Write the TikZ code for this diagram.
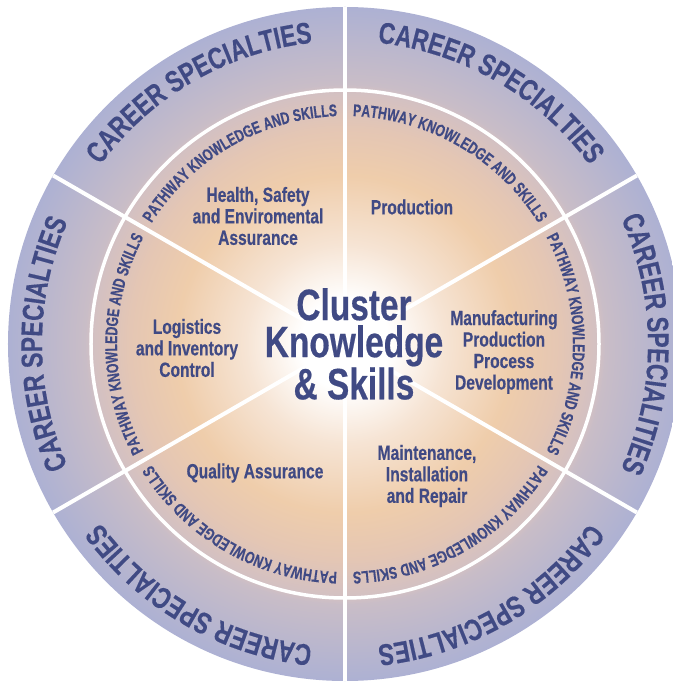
\documentclass[tikz,border=0pt]{standalone}
\usepackage{fontspec}
\newfontfamily\condsans[FakeStretch=0.76, FakeBold=0.4]{Liberation Sans}
\newfontfamily\narrowsans[FakeStretch=0.72, FakeBold=0.4]{Liberation Sans}
\usetikzlibrary{decorations.text}

\definecolor{navy}{HTML}{404A84}
\definecolor{cream}{HTML}{F6E4D4}
\definecolor{peach}{HTML}{EFCDAB}
\definecolor{peachdeep}{HTML}{E4C6B4}
\definecolor{rose}{HTML}{D2C0C3}
\definecolor{mauve}{HTML}{C9BDC7}
\definecolor{lavender}{HTML}{ADB1D3}

% white core fading to peach, then mauve and lavender towards the rim
% (the rim of the shaded disc falls at 25bp)
\pgfdeclareradialshading{wheelshade}{\pgfpoint{0bp}{0bp}}{%
  color(0bp)=(white); color(3.3bp)=(white); color(7.4bp)=(cream);
  color(12.5bp)=(peach); color(16bp)=(peachdeep); color(18.85bp)=(rose);
  color(19.3bp)=(mauve); color(25bp)=(lavender); color(50bp)=(lavender)}

% text set clockwise along an arc: centre angle, radius, font, text
\newcommand\ringtext[4]{%
  \path[decorate, decoration={text along path, text align=center,
      text={|#3\color{navy}|#4}}]
    (#1+29:#2) arc[start angle=#1+29, end angle=#1-29, radius=#2];}

\newcommand\careerfont{\condsans\bfseries\fontsize{30}{32}\selectfont}
\newcommand\pathfont{\narrowsans\bfseries\fontsize{17}{19}\selectfont}

\tikzset{
  sector/.style={text=navy, align=center, inner sep=0pt,
    font=\condsans\bfseries\fontsize{20.5}{21.5}\selectfont},
  core/.style={text=navy, align=center, inner sep=0pt,
    font=\condsans\bfseries\fontsize{44}{37}\selectfont},
  divider/.style={white, line width=4pt},
  ringline/.style={white, line width=3.5pt}
}

\begin{document}
\begin{tikzpicture}[x=1pt, y=1pt]
\useasboundingbox (-345,-338) rectangle (327,344);

% wheel
\shade[shading=wheelshade] (0,0) circle[radius=337];
\draw[ringline] (0,0) circle[radius=254];
\foreach \a in {90,30,-30,-90,-150,150}
  \draw[divider] (0,0) -- (\a:337);

% outer ring
\ringtext{120}{303}{\careerfont}{CAREER SPECIALTIES}
\ringtext{60}{303}{\careerfont}{CAREER SPECIALTIES}
\ringtext{0}{303}{\careerfont}{CAREER SPECIALITIES}
\ringtext{-60}{303}{\careerfont}{CAREER SPECIALTIES}
\ringtext{-120}{303}{\careerfont}{CAREER SPECIALTIES}
\ringtext{180}{303}{\careerfont}{CAREER SPECIALTIES}

% pathway ring
\ringtext{120}{228}{\pathfont}{PATHWAY KNOWLEDGE AND SKILLS}
\ringtext{60}{228}{\pathfont}{PATHWAY KNOWLEDGE AND SKILLS}
\ringtext{0}{228}{\pathfont}{PATHWAY KNOWLEDGE AND SKILLS}
\ringtext{-60}{228}{\pathfont}{PATHWAY KNOWLEDGE AND SKILLS}
\ringtext{-120}{228}{\pathfont}{PATHWAY KNOWLEDGE AND SKILLS}
\ringtext{180}{228}{\pathfont}{PATHWAY KNOWLEDGE AND SKILLS}

% sector labels
\node[sector] (hse) at (-87,128) {Health, Safety\\and Enviromental\\Assurance};
\node[sector] (prod) at (67,137) {Production};
\node[sector] (mfg) at (159,-8) {Manufacturing\\Production\\Process\\Development};
\node[sector] (maint) at (82,-132) {Maintenance,\\Installation\\and Repair};
\node[sector] (qa) at (-90,-129) {Quality Assurance};
\node[sector] (logi) at (-158,-4) {Logistics\\and Inventory\\Control};

% hub
\node[core] (hub) at (9,0) {Cluster\\Knowledge\\\& Skills};
\end{tikzpicture}
\end{document}
